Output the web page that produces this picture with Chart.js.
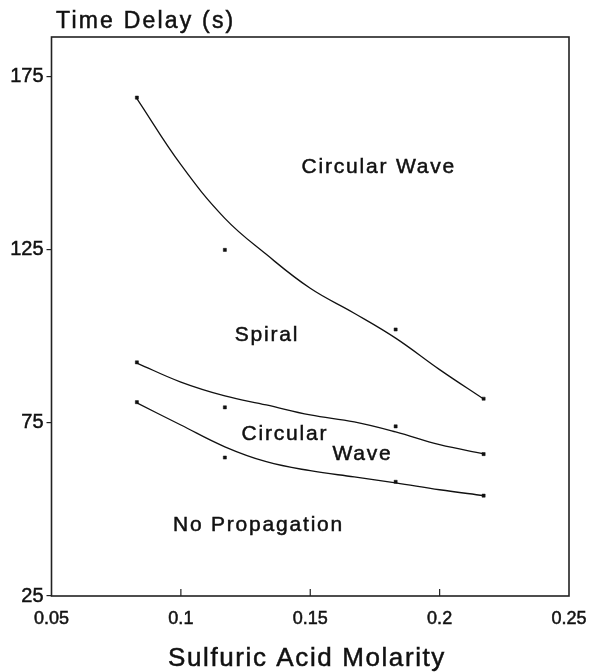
<!DOCTYPE html>
<html>
<head>
<meta charset="utf-8">
<script src="https://cdn.jsdelivr.net/npm/chart.js@4.4.1/dist/chart.umd.min.js"></script>
<style>
  html, body { margin: 0; padding: 0; background: #fff; }
  #wrap { width: 592px; height: 672px; }
</style>
</head>
<body>
<div id="wrap"><canvas id="chart" width="592" height="672"></canvas></div>
<script>
// Measured points (sulfuric acid molarity vs time delay)
const pointX = [0.083, 0.117, 0.183, 0.217];
const upperPoints = [169, 125, 102, 82];
const middlePoints = [92.5, 79.5, 74, 66];
const lowerPoints = [81, 65, 58, 54];

// Hand-drawn boundary curves
const curveX = [0.083, 0.1, 0.117, 0.133, 0.15, 0.167, 0.183, 0.2, 0.217];
const upperCurve = [168.7, 149.6, 134.1, 123.7, 113.9, 106.7, 99.5, 90.4, 81.9];
const middleCurve = [92.3, 86.8, 82.8, 80.2, 77.3, 75.3, 72.4, 68.7, 66.1];
const lowerCurve = [80.8, 74.4, 68.1, 63.8, 61.2, 59.4, 57.7, 55.7, 54.0];

// Axis ticks
const xTicks = [0.05, 0.1, 0.15, 0.2, 0.25];
const yTicks = [25, 75, 125, 175];

// Region labels inside the plot
const regionLabels = ['Circular Wave', 'Spiral', 'Circular', 'Wave', 'No Propagation'];
const regionX = [0.1765, 0.1333, 0.1402, 0.1702, 0.13];
const regionY = [149.5, 100.9, 72.2, 66.5, 46.1];

const FONT = '"Liberation Sans", Arial, Helvetica, sans-serif';
const INK = '#111';

function pairs(xs, ys) {
  return xs.map((x, i) => ({ x: x, y: ys[i] }));
}

function curveSet(ys) {
  return {
    data: pairs(curveX, ys),
    showLine: true,
    borderColor: INK,
    borderWidth: 1.3,
    pointRadius: 0,
    tension: 0.4,
    fill: false
  };
}

function dotSet(ys) {
  return {
    data: pairs(pointX, ys),
    showLine: false,
    pointStyle: 'rect',
    pointRadius: 2.2,
    backgroundColor: INK,
    borderColor: INK,
    borderWidth: 0.5
  };
}

// draws text with a thin outline so it looks as heavy as the scan
function inkText(ctx, t, x, y) {
  ctx.fillText(t, x, y);
  ctx.strokeText(t, x, y);
}

const framePlugin = {
  id: 'frame',
  afterDraw(chart) {
    const ctx = chart.ctx;
    const a = chart.chartArea;
    const xs = chart.scales.x;
    ctx.save();
    // box around plot
    ctx.strokeStyle = '#222';
    ctx.lineWidth = 1.6;
    ctx.strokeRect(a.left, a.top, a.right - a.left, a.bottom - a.top);
    // inward x tick marks
    ctx.lineWidth = 1.2;
    xTicks.slice(1, -1).forEach(v => {
      const px = xs.getPixelForValue(v);
      ctx.beginPath();
      ctx.moveTo(px, a.bottom);
      ctx.lineTo(px, a.bottom - 7);
      ctx.stroke();
    });
    // region labels
    ctx.fillStyle = INK;
    ctx.strokeStyle = INK;
    ctx.lineWidth = 0.5;
    ctx.font = '21px ' + FONT;
    ctx.letterSpacing = '1.8px';
    ctx.textAlign = 'center';
    ctx.textBaseline = 'alphabetic';
    regionLabels.forEach((t, i) => {
      const px = xs.getPixelForValue(regionX[i]);
      const py = chart.scales.y.getPixelForValue(regionY[i]);
      inkText(ctx, t, px, py + 21 * 0.36);
    });
    // axis titles
    ctx.font = '23px ' + FONT;
    ctx.letterSpacing = '2.2px';
    ctx.textAlign = 'left';
    inkText(ctx, 'Time Delay (s)', 56, 28);
    ctx.font = '26px ' + FONT;
    ctx.letterSpacing = '1.6px';
    ctx.textAlign = 'center';
    inkText(ctx, 'Sulfuric Acid Molarity', 307, 666);
    ctx.restore();
  }
};

new Chart(document.getElementById('chart'), {
  type: 'scatter',
  data: {
    datasets: [
      curveSet(upperCurve),
      curveSet(middleCurve),
      curveSet(lowerCurve),
      dotSet(upperPoints),
      dotSet(middlePoints),
      dotSet(lowerPoints)
    ]
  },
  options: {
    responsive: false,
    animation: false,
    layout: { padding: { top: 37, right: 23, left: 0, bottom: 0 } },
    plugins: {
      legend: { display: false },
      tooltip: { enabled: false }
    },
    scales: {
      x: {
        type: 'linear',
        min: 0.05,
        max: 0.25,
        afterBuildTicks: s => { s.ticks = xTicks.map(v => ({ value: v })); },
        afterFit: s => { s.height = 76; s.paddingLeft = 0; s.paddingRight = 0; },
        grid: { drawOnChartArea: false, drawTicks: false },
        border: { display: false },
        ticks: {
          padding: 12,
          color: INK,
          textStrokeColor: INK,
          textStrokeWidth: 0.5,
          font: { family: FONT, size: 18 },
          maxRotation: 0,
          autoSkip: false,
          callback: v => String(v)
        }
      },
      y: {
        type: 'linear',
        min: 25,
        max: 186.5,
        afterBuildTicks: s => { s.ticks = yTicks.map(v => ({ value: v })); },
        afterFit: s => { s.width = 51.5; },
        grid: { drawOnChartArea: false, drawTicks: true, tickLength: 5, color: '#222', lineWidth: 1.2 },
        border: { display: false },
        ticks: {
          padding: 3,
          color: INK,
          textStrokeColor: INK,
          textStrokeWidth: 0.5,
          font: { family: FONT, size: 20 },
          autoSkip: false,
          callback: v => String(v)
        }
      }
    }
  },
  plugins: [framePlugin]
});
</script>
</body>
</html>
